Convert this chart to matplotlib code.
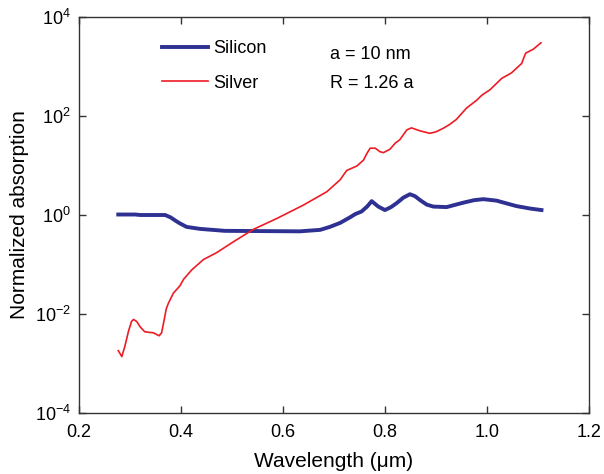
import numpy as np
import matplotlib
matplotlib.use("Agg")
import matplotlib.pyplot as plt

plt.rcParams['font.family'] = ['Liberation Sans', 'DejaVu Sans']

# Silicon curve (wavelength in um, log10 of normalized absorption)
si_wl = [0.277, 0.310, 0.320, 0.369, 0.380, 0.390, 0.398, 0.411, 0.437, 0.486,
         0.633, 0.673, 0.692, 0.712, 0.731, 0.742, 0.754, 0.765, 0.774, 0.787,
         0.800, 0.812, 0.823, 0.836, 0.849, 0.859, 0.869, 0.882, 0.895, 0.921,
         0.954, 0.975, 0.993, 1.019, 1.040, 1.058, 1.085, 1.107]
si_log = [0.01, 0.01, 0.0, 0.0, -0.05, -0.12, -0.17, -0.24, -0.28, -0.32,
          -0.33, -0.30, -0.24, -0.16, -0.05, 0.02, 0.07, 0.17, 0.28, 0.17,
          0.10, 0.16, 0.24, 0.35, 0.42, 0.38, 0.30, 0.21, 0.17, 0.16,
          0.25, 0.30, 0.32, 0.29, 0.23, 0.18, 0.13, 0.10]

# Silver curve
ag_wl = [0.277, 0.284, 0.290, 0.297, 0.303, 0.307, 0.313, 0.320, 0.329, 0.346,
         0.357, 0.362, 0.367, 0.371, 0.375, 0.385, 0.398, 0.405, 0.421, 0.444,
         0.470, 0.503, 0.542, 0.588, 0.640, 0.686, 0.712, 0.725, 0.745, 0.758,
         0.765, 0.771, 0.781, 0.790, 0.797, 0.810, 0.820, 0.829, 0.836, 0.843,
         0.852, 0.869, 0.888, 0.900, 0.914, 0.927, 0.940, 0.960, 0.980, 0.990,
         1.006, 1.029, 1.048, 1.068, 1.076, 1.091, 1.106]
ag_log = [-2.74, -2.86, -2.65, -2.35, -2.15, -2.11, -2.15, -2.26, -2.36, -2.38,
          -2.44, -2.38, -2.12, -1.90, -1.79, -1.58, -1.43, -1.30, -1.11, -0.90,
          -0.76, -0.54, -0.29, -0.07, 0.20, 0.47, 0.71, 0.90, 0.99, 1.11,
          1.25, 1.35, 1.35, 1.28, 1.26, 1.33, 1.45, 1.52, 1.62, 1.72,
          1.76, 1.70, 1.65, 1.68, 1.75, 1.83, 1.93, 2.16, 2.32, 2.42,
          2.53, 2.76, 2.87, 3.06, 3.27, 3.35, 3.48]

fig = plt.figure(figsize=(6.04, 4.74), dpi=100)
ax = fig.add_axes([0.1308, 0.1287, 0.8442, 0.8354])

ax.plot(si_wl, 10 ** np.array(si_log), color='#2E3192', lw=2.8, label='Silicon')
ax.plot(ag_wl, 10 ** np.array(ag_log), color='#ED1C24', lw=1.2, label='Silver')

ax.set_yscale('log')
ax.set_xlim(0.2, 1.2)
ax.set_ylim(1e-4, 1e4)
ax.set_xticks([0.2, 0.4, 0.6, 0.8, 1.0, 1.2])
ax.set_xticklabels(['0.2', '0.4', '0.6', '0.8', '1.0', '1.2'])
ax.set_yticks([1e-4, 1e-2, 1e0, 1e2, 1e4])
ax.yaxis.set_minor_locator(matplotlib.ticker.NullLocator())
ax.tick_params(direction='in', top=True, right=True, length=5, width=1,
               labelsize=13, color='#333333')
ax.tick_params(axis='x', pad=8)
ax.tick_params(axis='y', pad=6)
for s in ax.spines.values():
    s.set_color('#333333')
    s.set_linewidth(1)

ax.set_xlabel('Wavelength (\u03bcm)', fontsize=15, labelpad=8)
ax.set_ylabel('Normalized absorption', fontsize=15)

ax.legend(loc='upper left', bbox_to_anchor=(0.13, 0.982), frameon=False,
          fontsize=13, handlelength=2.6, handletextpad=0.25, labelspacing=0.95)

ax.text(0.492, 0.9066, 'a = 10 nm', transform=ax.transAxes, fontsize=13, va='center')
ax.text(0.492, 0.833, 'R = 1.26 a', transform=ax.transAxes, fontsize=13, va='center')

fig.savefig('out.png', dpi=100)
